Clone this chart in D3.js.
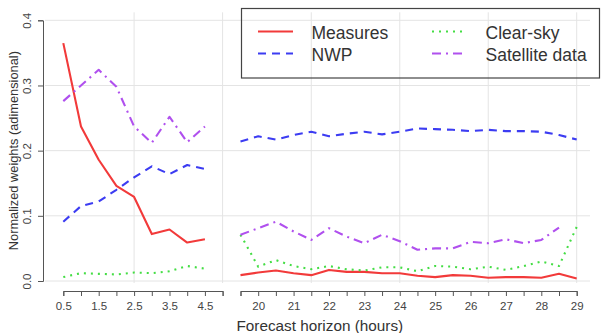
<!DOCTYPE html>
<html>
<head>
<meta charset="utf-8">
<script src="https://cdn.jsdelivr.net/npm/d3@7"></script>
<style>
  body { margin: 0; background: #fff; }
  svg { font-family: "Liberation Sans", Arial, sans-serif; }
</style>
</head>
<body>
<div id="chart"></div>
<script>
// forecast horizons (hours), two blocks with a break in between
var hoursShort = [0.5, 1, 1.5, 2, 2.5, 3, 3.5, 4, 4.5];
var hoursLong = [19.5, 20, 20.5, 21, 21.5, 22, 22.5, 23, 23.5, 24, 24.5, 25, 25.5, 26, 26.5, 27, 27.5, 28, 28.5, 29];

// normalized weights, short horizons
var measuresShort = [0.365, 0.237, 0.186, 0.146, 0.129, 0.072, 0.079, 0.059, 0.064];
var nwpShort = [0.091, 0.115, 0.122, 0.140, 0.159, 0.176, 0.164, 0.178, 0.172];
var clearSkyShort = [0.006, 0.012, 0.011, 0.010, 0.013, 0.012, 0.015, 0.023, 0.019];
var satelliteShort = [0.276, 0.300, 0.324, 0.298, 0.237, 0.212, 0.252, 0.213, 0.237];

// normalized weights, long horizons (satellite has no value at 29 h)
var measuresLong = [0.009, 0.013, 0.016, 0.012, 0.009, 0.017, 0.014, 0.014, 0.012, 0.012, 0.008, 0.006, 0.009, 0.008, 0.005, 0.006, 0.006, 0.005, 0.011, 0.004];
var nwpLong = [0.214, 0.222, 0.217, 0.224, 0.229, 0.222, 0.226, 0.229, 0.225, 0.229, 0.234, 0.233, 0.232, 0.230, 0.232, 0.230, 0.230, 0.229, 0.224, 0.217];
var clearSkyLong = [0.071, 0.022, 0.032, 0.023, 0.018, 0.023, 0.018, 0.016, 0.021, 0.021, 0.015, 0.023, 0.022, 0.018, 0.022, 0.017, 0.023, 0.030, 0.023, 0.083];
var satelliteLong = [0.071, 0.081, 0.091, 0.076, 0.063, 0.081, 0.068, 0.058, 0.071, 0.061, 0.048, 0.050, 0.050, 0.060, 0.058, 0.064, 0.058, 0.063, 0.082, null];

var yTicks = [0, 0.1, 0.2, 0.3, 0.4];
var xTicksShort = [0.5, 1, 1.5, 2, 2.5, 3, 3.5, 4, 4.5, 5];
var xLabelsShort = [0.5, 1.5, 2.5, 3.5, 4.5];
var xTicksLong = hoursLong;
var xLabelsLong = [20, 21, 22, 23, 24, 25, 26, 27, 28, 29];
var gridShort = [2.5, 5];
var gridLong = [21.5, 24, 26.5, 29];

var seriesNames = ["Measures", "NWP", "Clear-sky", "Satellite data"];
var colors = ["#f23a3a", "#3c3cf2", "#44dd44", "#b050ee"];
var dashes = ["none", "8,6", "2,5", "9,5,2,5"];

var w = 603, h = 333;

var svg = d3.select("#chart").append("svg")
    .attr("width", w)
    .attr("height", h);

// scales: one for each block of the broken x axis
var xLeft = d3.scaleLinear().domain([0.5, 5]).range([63.3, 222.6]);
var xRight = d3.scaleLinear().domain([19.5, 29]).range([240.5, 576.7]);
var y = d3.scaleLinear().domain([0, 0.4]).range([281, 20.3]);

// grid
var grid = svg.append("g").attr("stroke", "#e4e4e4").attr("stroke-width", 1);
grid.selectAll(".gv1").data(gridShort).enter().append("line")
    .attr("x1", d => xLeft(d)).attr("x2", d => xLeft(d))
    .attr("y1", y(0.4) - 8).attr("y2", y(0) + 2);
grid.selectAll(".gv2").data(gridLong).enter().append("line")
    .attr("x1", d => xRight(d)).attr("x2", d => xRight(d))
    .attr("y1", y(0.4) - 8).attr("y2", y(0) + 2);
grid.selectAll(".gh").data(yTicks).enter().append("line")
    .attr("x1", 45).attr("x2", 590)
    .attr("y1", d => y(d)).attr("y2", d => y(d));

// axes
function styleAxis(g) {
    g.selectAll("path, line").attr("stroke", "#555");
    g.selectAll("text").attr("fill", "#444").style("font-size", "11.5px")
        .style("font-family", "'Liberation Sans', Arial, sans-serif");
}

var axisL = svg.append("g")
    .attr("transform", "translate(0,291)")
    .call(d3.axisBottom(xLeft).tickValues(xTicksShort).tickSizeOuter(0).tickSize(5)
        .tickFormat(d => xLabelsShort.indexOf(d) >= 0 ? d3.format(".1f")(d) : ""));
styleAxis(axisL);
axisL.selectAll("text").attr("y", 11);

var axisR = svg.append("g")
    .attr("transform", "translate(0,291)")
    .call(d3.axisBottom(xRight).tickValues(xTicksLong).tickSizeOuter(0).tickSize(5)
        .tickFormat(d => xLabelsLong.indexOf(d) >= 0 ? d : ""));
styleAxis(axisR);
axisR.selectAll("text").attr("y", 11);

var axisY = svg.append("g")
    .attr("transform", "translate(43,0)")
    .call(d3.axisLeft(y).tickValues(yTicks).tickSizeOuter(0).tickSize(5)
        .tickFormat(d3.format(".1f")));
styleAxis(axisY);
axisY.selectAll("text")
    .attr("transform", "rotate(-90)")
    .attr("x", 0).attr("y", -12.5)
    .attr("dy", 0)
    .attr("text-anchor", "middle");

// axis titles
svg.append("text")
    .attr("x", 236.5).attr("y", 331)
    .attr("fill", "#333")
    .style("font-size", "15.3px")
    .text("Forecast horizon (hours)");

svg.append("text")
    .attr("transform", "translate(18," + ((y(0) + y(0.4)) / 2) + ") rotate(-90)")
    .attr("text-anchor", "middle")
    .attr("fill", "#333")
    .style("font-size", "12.8px")
    .text("Normalized weights (adimensional)");

// lines
var shortData = [measuresShort, nwpShort, clearSkyShort, satelliteShort];
var longData = [measuresLong, nwpLong, clearSkyLong, satelliteLong];

function drawBlock(hours, values, xScale, i) {
    var line = d3.line()
        .defined(d => d[1] !== null)
        .x(d => xScale(d[0]))
        .y(d => y(d[1]));
    svg.append("path")
        .datum(hours.map((hr, j) => [hr, values[j]]))
        .attr("d", line)
        .attr("fill", "none")
        .attr("stroke", colors[i])
        .attr("stroke-width", 2.1)
        .attr("stroke-dasharray", dashes[i])
        .attr("stroke-linejoin", "round");
}

seriesNames.forEach(function (name, i) {
    drawBlock(hoursShort, shortData[i], xLeft, i);
    drawBlock(hoursLong, longData[i], xRight, i);
});

// legend
var legend = svg.append("g");
legend.append("rect")
    .attr("x", 241.5).attr("y", 8.5)
    .attr("width", 358).attr("height", 69.5)
    .attr("fill", "none")
    .attr("stroke", "#444")
    .attr("stroke-width", 1.2);

var legendPos = [[258, 31.5], [258, 53.5], [432, 31.5], [432, 53.5]];
seriesNames.forEach(function (name, i) {
    var p = legendPos[i];
    legend.append("line")
        .attr("x1", p[0]).attr("x2", p[0] + 35)
        .attr("y1", p[1]).attr("y2", p[1])
        .attr("stroke", colors[i])
        .attr("stroke-width", 2.1)
        .attr("stroke-dasharray", dashes[i]);
    legend.append("text")
        .attr("x", p[0] + 53.5).attr("y", p[1] + 7.8)
        .attr("fill", "#333")
        .style("font-size", "17.5px")
        .text(name);
});
</script>
</body>
</html>
